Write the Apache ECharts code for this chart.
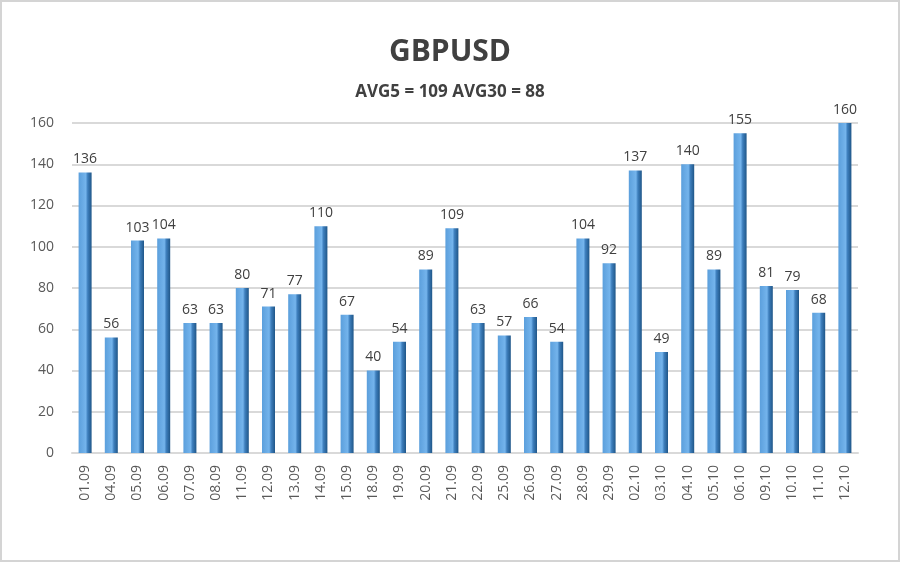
<!DOCTYPE html>
<html>
<head>
<meta charset="utf-8">
<title>GBPUSD</title>
<script src="https://cdn.jsdelivr.net/npm/echarts@6/dist/echarts.min.js"></script>
<style>
  html, body { margin: 0; padding: 0; background: #fff; }
  #chart { width: 900px; height: 562px; box-sizing: border-box; border: 2px solid #d4d4d4; }
</style>
</head>
<body>
<div id="chart"></div>
<script>
const categories = ['01.09', '04.09', '05.09', '06.09', '07.09', '08.09', '11.09', '12.09', '13.09', '14.09',
  '15.09', '18.09', '19.09', '20.09', '21.09', '22.09', '25.09', '26.09', '27.09', '28.09',
  '29.09', '02.10', '03.10', '04.10', '05.10', '06.10', '09.10', '10.10', '11.10', '12.10'];
const values = [136, 56, 103, 104, 63, 63, 80, 71, 77, 110,
  67, 40, 54, 89, 109, 63, 57, 66, 54, 104,
  92, 137, 49, 140, 89, 155, 81, 79, 68, 160];
const titleText = 'GBPUSD';
const subtitleText = 'AVG5 = 109 AVG30 = 88';

const chart = echarts.init(document.getElementById('chart'));

// bar with a darker right face, like the old excel 3d columns
const barColor = new echarts.graphic.LinearGradient(0, 0, 1, 0, [
  { offset: 0, color: '#5b9fdc' },
  { offset: 0.55, color: '#74b4ec' },
  { offset: 0.7, color: '#3e7fbd' },
  { offset: 1, color: '#1f5688' }
]);

chart.setOption({
  backgroundColor: '#fff',
  title: {
    text: titleText,
    subtext: subtitleText,
    left: 'center',
    top: 30,
    itemGap: 17,
    textStyle: {
      fontFamily: 'Open Sans',
      fontSize: 30,
      fontWeight: 'bold',
      color: '#404040'
    },
    subtextStyle: {
      fontFamily: 'Open Sans',
      fontSize: 17,
      fontWeight: 'bold',
      color: '#404040'
    }
  },
  grid: {
    top: 121,
    bottom: 107,
    left: 70,
    right: 40
  },
  xAxis: {
    type: 'category',
    data: categories,
    axisTick: { show: false },
    axisLine: { lineStyle: { color: '#d9d9d9', width: 2 } },
    axisLabel: {
      rotate: 90,
      margin: 12,
      fontFamily: 'Open Sans',
      fontSize: 14,
      color: '#595959'
    }
  },
  yAxis: {
    type: 'value',
    min: 0,
    max: 160,
    interval: 20,
    axisLine: { show: false },
    axisTick: { show: false },
    splitLine: { lineStyle: { color: '#d9d9d9', width: 2 } },
    axisLabel: {
      margin: 18,
      fontFamily: 'Open Sans',
      fontSize: 14,
      color: '#595959'
    }
  },
  series: [{
    type: 'bar',
    data: values,
    barWidth: 13,
    itemStyle: { color: barColor },
    label: {
      show: true,
      position: 'top',
      distance: 6,
      fontFamily: 'Open Sans',
      fontSize: 14,
      color: '#404040'
    },
    animation: false
  }]
});
</script>
</body>
</html>
